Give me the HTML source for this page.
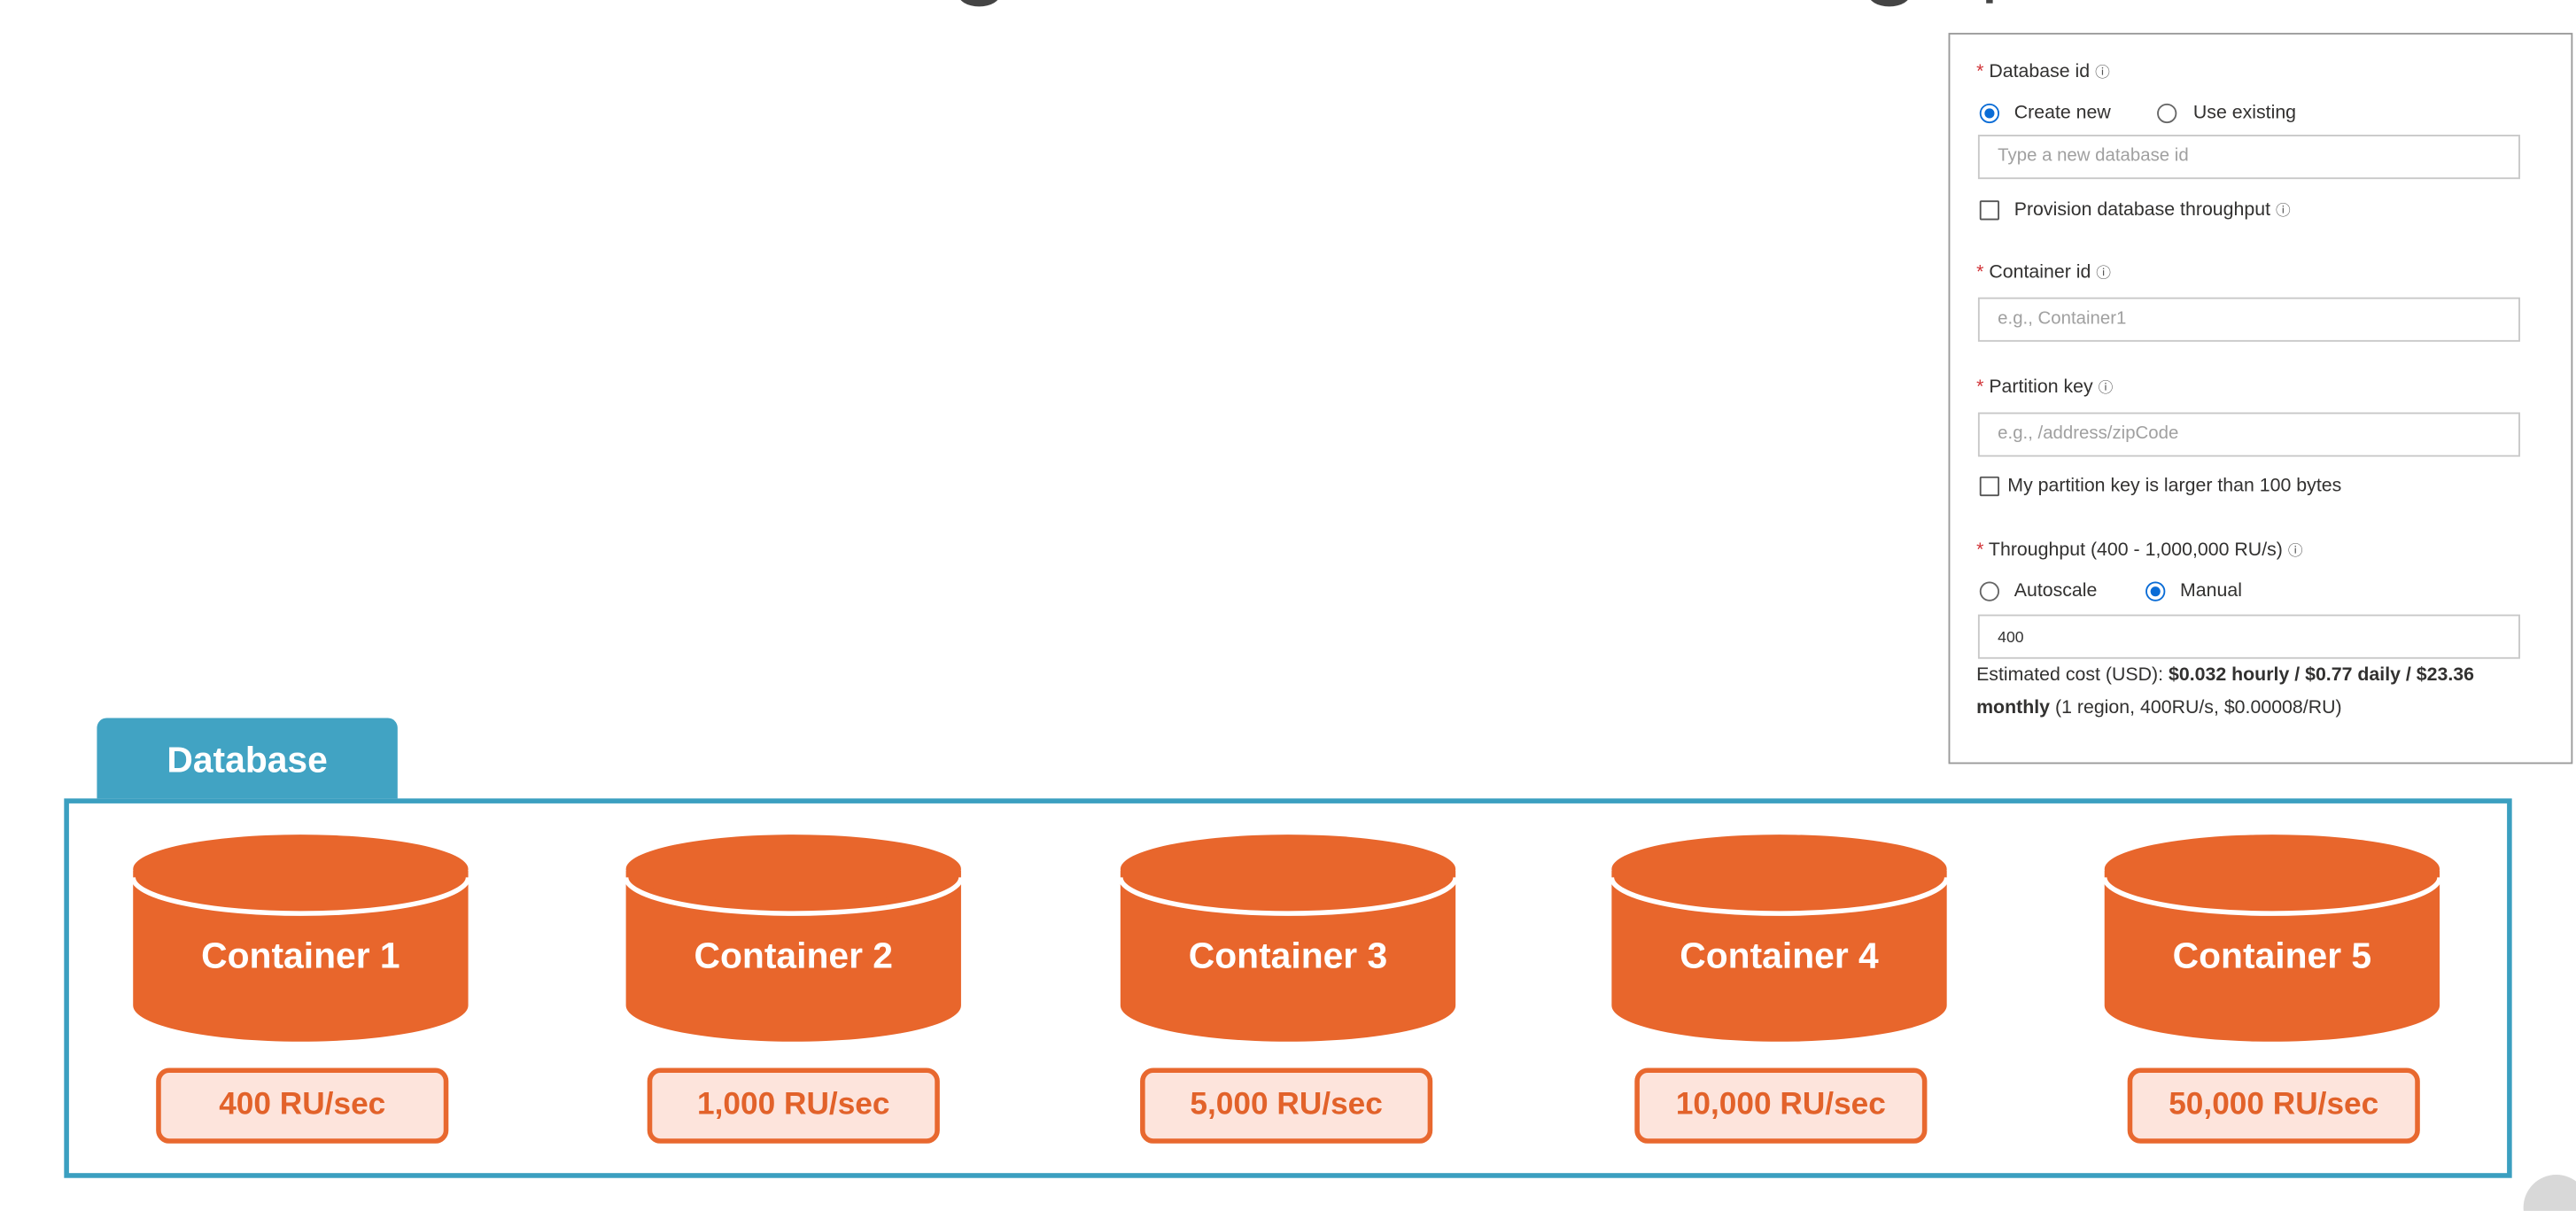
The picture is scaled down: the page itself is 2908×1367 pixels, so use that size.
<!DOCTYPE html>
<html><head><meta charset="utf-8">
<style>
html,body{margin:0;padding:0;background:#fff;}
body{width:2908px;height:1366px;overflow:hidden;position:relative;font-family:"Liberation Sans",sans-serif;}
#s{position:absolute;left:0;top:0;width:1568px;height:737px;transform:scale(1.85459);transform-origin:0 0;}
.a{position:absolute;white-space:nowrap;}
.f{font-size:11.5px;color:#323130;line-height:14px;}
.req{color:#d13438;}
.inp{position:absolute;left:1204px;width:330px;height:27px;border:1px solid #c8c8c8;box-sizing:border-box;}
.ph{position:absolute;left:11px;top:6px;font-size:11px;color:#a0a0a0;}
.rad{position:absolute;width:12px;height:12px;border:1px solid #666;border-radius:50%;box-sizing:border-box;}
.rad.on{border-color:#0a6cd6;}
.rad.on::after{content:"";position:absolute;left:2px;top:2px;width:6px;height:6px;border-radius:50%;background:#0a6cd6;}
.chk{position:absolute;width:12px;height:12px;border:1px solid #555;box-sizing:border-box;border-radius:1px;}
.i{font-size:9px;color:#555;}
.ru{position:absolute;top:650px;width:178px;height:46px;box-sizing:border-box;border:3px solid #e8682f;border-radius:8px;background:#fde4dc;color:#e2622a;font-size:19px;font-weight:bold;text-align:center;line-height:40px;}
.cl{position:absolute;top:569px;width:204px;text-align:center;color:#fff;font-size:22px;font-weight:bold;}
</style></head><body>
<div id="s">
<div class="a" style="left:583px;top:-12px;width:26px;height:16px;border-radius:50%;background:#444;"></div>
<div class="a" style="left:1137px;top:-12px;width:26px;height:16px;border-radius:50%;background:#444;"></div>
<div class="a" style="left:1209px;top:-6px;width:4px;height:8px;background:#444;"></div>

<div class="a" style="left:1186px;top:20px;width:380px;height:445px;border:1px solid #9a9a9a;box-sizing:border-box;"></div>
<div class="a f" style="left:1203px;top:37px;"><span class="req">*</span> Database id <span class="i">ⓘ</span></div>
<div class="rad on" style="left:1205px;top:63px;"></div>
<div class="a f" style="left:1226px;top:62px;">Create new</div>
<div class="rad" style="left:1313px;top:63px;"></div>
<div class="a f" style="left:1335px;top:62px;">Use existing</div>
<div class="inp" style="top:82px;"><span class="ph">Type a new database id</span></div>
<div class="chk" style="left:1205px;top:122px;"></div>
<div class="a f" style="left:1226px;top:121px;">Provision database throughput <span class="i">ⓘ</span></div>
<div class="a f" style="left:1203px;top:159px;"><span class="req">*</span> Container id <span class="i">ⓘ</span></div>
<div class="inp" style="top:181px;"><span class="ph">e.g., Container1</span></div>
<div class="a f" style="left:1203px;top:229px;"><span class="req">*</span> Partition key <span class="i">ⓘ</span></div>
<div class="inp" style="top:251px;"><span class="ph">e.g., /address/zipCode</span></div>
<div class="chk" style="left:1205px;top:290px;"></div>
<div class="a f" style="left:1222px;top:289px;">My partition key is larger than 100 bytes</div>
<div class="a f" style="left:1203px;top:328px;"><span class="req">*</span> Throughput (400 - 1,000,000 RU/s) <span class="i">ⓘ</span></div>
<div class="rad" style="left:1205px;top:354px;"></div>
<div class="a f" style="left:1226px;top:353px;">Autoscale</div>
<div class="rad on" style="left:1306px;top:354px;"></div>
<div class="a f" style="left:1327px;top:353px;">Manual</div>
<div class="inp" style="top:374px;"><span class="ph" style="color:#333;font-size:9.5px;top:8px;">400</span></div>
<div class="a f" style="left:1203px;top:404px;font-size:11.5px;">Estimated cost (USD): <b>$0.032 hourly / $0.77 daily / $23.36</b></div>
<div class="a f" style="left:1203px;top:424px;font-size:11.5px;"><b>monthly</b> (1 region, 400RU/s, $0.00008/RU)</div>

<div class="a" style="left:59px;top:437px;width:183px;height:52px;background:#41a3c3;border-radius:6px 6px 0 0;"></div>
<div class="a" style="left:59px;top:450px;width:183px;text-align:center;color:#fff;font-size:22px;font-weight:bold;">Database</div>
<div class="a" style="left:39px;top:486px;width:1490px;height:231px;border:3px solid #3b9fc0;box-sizing:border-box;background:#fff;"></div>

<svg class="a" style="left:0;top:0;" width="1568" height="737">
<defs>
<g id="cyl">
<path d="M0,530 L0,612 A102,22 0 0 0 204,612 L204,530 Z" fill="#e8662c"/>
<path d="M0,534 A102,22 0 0 0 204,534" fill="none" stroke="#fff" stroke-width="3"/>
<ellipse cx="102" cy="529" rx="102" ry="21" fill="#e8662c"/>
</g>
</defs>
<use href="#cyl" x="81"/>
<use href="#cyl" x="381"/>
<use href="#cyl" x="682"/>
<use href="#cyl" x="981"/>
<use href="#cyl" x="1281"/>
<circle cx="1556" cy="735" r="20" fill="#d8d8d8"/>
</svg>
<div class="cl" style="left:81px;">Container 1</div>
<div class="cl" style="left:381px;">Container 2</div>
<div class="cl" style="left:682px;">Container 3</div>
<div class="cl" style="left:981px;">Container 4</div>
<div class="cl" style="left:1281px;">Container 5</div>

<div class="ru" style="left:95px;">400 RU/sec</div>
<div class="ru" style="left:394px;">1,000 RU/sec</div>
<div class="ru" style="left:694px;">5,000 RU/sec</div>
<div class="ru" style="left:995px;">10,000 RU/sec</div>
<div class="ru" style="left:1295px;">50,000 RU/sec</div>
</div>
</body></html>
